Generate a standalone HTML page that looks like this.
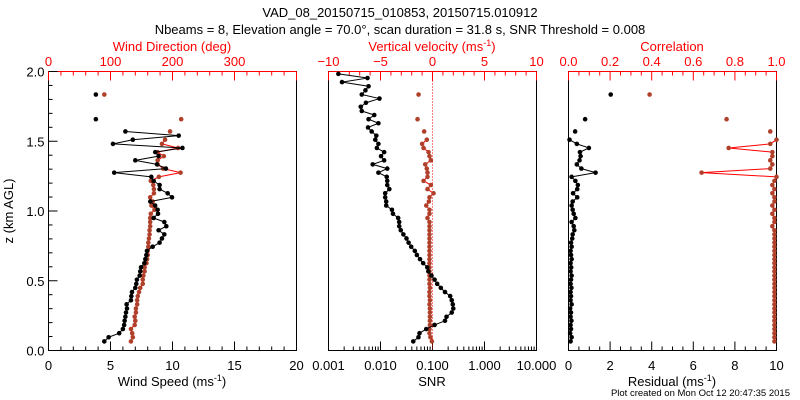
<!DOCTYPE html>
<html><head><meta charset="utf-8"><style>
html,body{margin:0;padding:0;background:#fff;}
svg{display:block;font-family:"Liberation Sans",sans-serif;}
</style></head><body>
<svg id="chart" width="800" height="400" xmlns="http://www.w3.org/2000/svg">
<text x="400" y="17" font-size="13" text-anchor="middle">VAD_08_20150715_010853, 20150715.010912</text>
<text x="400" y="34" font-size="13" text-anchor="middle">Nbeams = 8, Elevation angle = 70.0°, scan duration = 31.8 s, SNR Threshold = 0.008</text>
<text transform="translate(13,211) rotate(-90)" font-size="13" text-anchor="middle">z (km AGL)</text>
<text x="790" y="396" font-size="9.5" text-anchor="end">Plot created on Mon Oct 12 20:47:35 2015</text>
<g id="plots"></g>
</svg>
<script>
const heights=[0.065,0.095,0.124,0.154,0.183,0.213,0.242,0.272,0.301,0.331,0.360,0.390,0.419,0.449,0.478,0.508,0.537,0.567,0.596,0.626,0.655,0.685,0.714,0.744,0.773,0.803,0.832,0.862,0.891,0.921,0.950,0.980,1.009,1.039,1.068,1.098,1.127,1.157,1.186,1.216,1.245,1.275,1.304,1.334,1.363,1.393,1.422,1.452,1.481,1.511,1.540,1.570,1.599,1.629,1.658,1.688,1.717,1.747,1.776,1.806,1.835,1.865,1.894,1.924,1.953,1.983];
const N=null;
const windSpeed=[4.5,4.85,5.7,6.0,6.1,6.14,6.2,6.25,6.33,6.3,6.65,6.68,6.73,7.0,7.08,7.13,7.35,7.4,7.46,7.73,7.81,7.89,7.94,8.4,8.96,9.15,9.34,8.88,9.5,9.34,8.48,8.83,8.8,8.6,8.21,9.96,9.61,8.96,8.96,8.48,8.29,5.3,9.47,8.75,7.0,8.88,8.61,10.8,5.2,6.8,10.5,6.2,N,N,3.82,N,N,N,N,N,3.82,N,N,N,N,N];
const windDir=[133,136,135,133,139,140,139,141,141,143,143,144,146,148,152,152,153,155,155,158,159,160,160,161,161,162,163,163,164,164,164,165,171,166,168,164,170,170,169,165,178,213,185,176,176,186,176,209,183,188,N,196,N,N,214,N,N,N,N,N,90,N,N,N,N,N];
const snrLog10=[-1.37,-1.27,-1.25,-1.12,-0.96,-0.76,-0.73,-0.63,-0.60,-0.61,-0.63,-0.66,-0.76,-0.84,-0.91,-0.96,-1.02,-1.08,-1.10,-1.18,-1.24,-1.30,-1.34,-1.41,-1.46,-1.50,-1.56,-1.61,-1.64,-1.64,-1.66,-1.76,-1.78,-1.89,-1.89,-1.91,-1.91,-1.83,-1.87,-1.87,-1.88,-2.04,-1.87,-2.15,-1.93,-1.99,-1.93,-2.07,-2.04,-2.10,-2.08,-2.17,-2.24,-2.04,-2.23,-2.12,-2.36,-2.38,-2.28,-2.02,-2.36,-2.29,-2.23,-2.74,-2.25,-2.81];
const wVel=[-0.06,-0.2,-0.29,-0.29,-0.25,-0.25,-0.25,-0.25,-0.25,-0.29,-0.25,-0.29,-0.29,-0.25,-0.29,-0.29,-0.29,-0.29,-0.29,-0.29,-0.29,-0.29,-0.29,-0.29,-0.29,-0.29,-0.29,-0.29,-0.29,-0.29,-0.48,-0.29,-0.29,-0.6,-0.35,-0.29,0.1,-0.48,-0.16,-0.86,-0.48,-0.48,-0.55,-0.7,-0.16,-0.29,-0.38,-0.86,-1.0,-0.55,N,-0.8,N,N,-1.44,N,N,N,N,N,-1.34,N,N,N,N,N];
const residual=[0.1,0.15,0.08,0.12,0.1,0.14,0.1,0.12,0.08,0.15,0.1,0.12,0.1,0.14,0.1,0.12,0.15,0.1,0.13,0.1,0.15,0.12,0.1,0.15,0.12,0.18,0.2,0.28,0.25,0.15,0.33,0.25,0.2,0.15,0.2,0.42,0.22,0.42,0.45,0.33,0.15,1.3,0.62,0.4,0.53,0.58,0.55,0.98,0.4,0.05,N,0.32,N,N,0.8,N,N,N,N,N,2.03,N,N,N,N,N];
const correlation=[0.99,0.99,0.99,0.99,0.99,0.99,0.99,0.99,0.99,0.99,0.99,0.99,0.99,0.99,0.99,0.99,0.99,0.99,0.99,0.99,0.99,0.99,0.99,0.99,0.99,0.99,0.99,0.99,0.98,0.99,0.99,0.98,0.99,0.98,0.99,0.99,0.98,0.99,0.98,0.99,1.0,0.64,0.97,0.98,0.97,0.98,0.98,0.77,0.97,1.0,N,0.97,N,N,0.76,N,N,N,N,N,0.39,N,N,N,N,N];
const yTicks=[0.0,0.5,1.0,1.5,2.0];
const speedTicks=[0,5,10,15,20];
const dirTicks=[0,100,200,300];
const snrTicks=["0.001","0.010","0.100","1.000","10.000"];
const wTicks=[-10,-5,0,5,10];
const resTicks=[0,2,4,6,8,10];
const corrTicks=["0.0","0.2","0.4","0.6","0.8","1.0"];

const NS="http://www.w3.org/2000/svg";
const G=document.getElementById('plots');
const Y0=350.5,Y1=71.5;
const yS=z=>Y0-(z/2)*(Y0-Y1);
const RED="#ff0000",MK="#b0402a";
function el(t,a,p){const e=document.createElementNS(NS,t);for(const k in a)e.setAttribute(k,a[k]);(p||G).appendChild(e);return e;}
function txt(x,y,s,fill,size,anchor,name){const t=el('text',{x:x,y:y,fill:fill,'font-size':size,'text-anchor':anchor||'middle'});t.textContent=s;


return t;}
function line(x1,y1,x2,y2,c,name){const l=el('line',{x1:x1,y1:y1,x2:x2,y2:y2,stroke:c,'stroke-width':1});


return l;}

function panel(L,R,name,leftTicks){
  const g=el('g',{});
  
  
  const r=el('rect',{x:L,y:Y1,width:R-L,height:Y0-Y1,fill:'none',stroke:'#000'},g);
  
  
  el('line',{x1:L,y1:Y1,x2:R,y2:Y1,stroke:RED},g);
  if(leftTicks){
    for(let i=0;i<=20;i++){const z=i*0.1;const len=(i%5==0)?9:4;const y=yS(z);
      line(L,y,L+len,y,'#000','y-tick');}
    for(const v of yTicks){txt(L-4,yS(v)+5,v.toFixed(1),'#000',13,'end','y-tick-label');}
  }
  return g;
}
function series(xs,vals,xf,lineColor,markColor,name){
  let prev=null;
  for(let i=0;i<vals.length;i++){
    const v=vals[i];
    if(v===null){prev=null;continue;}
    const p=[xf(v),yS(heights[i])];
    if(prev){line(prev[0],prev[1],p[0],p[1],lineColor,name+'-segment');}
    prev=p;
  }
  for(let i=0;i<vals.length;i++){
    const v=vals[i]; if(v===null)continue;
    const c=el('circle',{cx:xf(v),cy:yS(heights[i]),r:2.3,fill:markColor});
    
    
  }
}

// Panel 1
{const L=48.5,R=296.5;panel(L,R,'wind-panel',true);
 const xs=v=>L+v/20*(R-L), xd=v=>L+v/400*(R-L);
 for(let i=0;i<=20;i++){const x=xs(i);line(x,Y0,x,Y0-(i%5==0?9:4),'#000','x-tick');}
 for(let i=0;i<=20;i++){const x=xd(i*20);line(x,Y1,x,Y1+(i%5==0?9:4),RED,'top-tick');}
 speedTicks.forEach(v=>txt(xs(v),370,String(v),'#000',13,'middle','speed-tick-label'));
 dirTicks.forEach(v=>txt(xd(v),66,String(v),RED,13,'middle','direction-tick-label'));
 txt(172,51,'Wind Direction (deg)',RED,13,'middle','wind-direction-title');
 const t=txt(172,386,'Wind Speed (ms','#000',13,'middle','wind-speed-title');
 const s=el('tspan',{dy:-5,'font-size':9},t);s.textContent='-1';const s2=el('tspan',{dy:5},t);s2.textContent=')';
 series(heights,windDir,xd,RED,MK,'wind-direction');
 series(heights,windSpeed,xs,'#000','#000','wind-speed');
}
// Panel 2
{const L=328.5,R=536.5;panel(L,R,'snr-panel',false);
 const xl=v=>L+(v+3)/4*(R-L), xw=v=>L+(v+10)/20*(R-L);
 for(let d=-3;d<1;d++){for(let k=1;k<10;k++){const x=xl(d+Math.log10(k));line(x,Y0,x,Y0-(k==1?9:4),'#000','x-tick');}}
 line(R,Y0,R,Y0-9,'#000','x-tick');
 for(let i=0;i<=20;i++){const x=xw(-10+i);line(x,Y1,x,Y1+(i%5==0?9:4),RED,'top-tick');}
 snrTicks.forEach((v,i)=>txt(xl(i-3),370,v,'#000',13,'middle','snr-tick-label'));
 wTicks.forEach(v=>txt(xw(v),66,v<0?'\u2212'+(-v):String(v),RED,13,'middle','w-tick-label'));
 const t=txt(432,51,'Vertical velocity (ms',RED,13,'middle','vertical-velocity-title');
 const s=el('tspan',{dy:-5,'font-size':9},t);s.textContent='-1';const s2=el('tspan',{dy:5},t);s2.textContent=')';
 txt(432,386,'SNR','#000',13,'middle','snr-title');
 const zl=el('line',{x1:xw(0),y1:Y1,x2:xw(0),y2:Y0,stroke:RED,'stroke-dasharray':'1,2'});
 
 
 series(heights,wVel,xw,RED,MK,'vertical-velocity');
 series(heights,snrLog10,xl,'#000','#000','snr');
}
// Panel 3
{const L=568.5,R=776.5;panel(L,R,'residual-panel',false);
 const xr=v=>L+v/10*(R-L), xc=v=>L+v*(R-L);
 for(let i=0;i<=20;i++){const x=xr(i*0.5);line(x,Y0,x,Y0-(i%4==0?9:4),'#000','x-tick');}
 for(let i=0;i<=20;i++){const x=xc(i*0.05);line(x,Y1,x,Y1+(i%4==0?9:4),RED,'top-tick');}
 resTicks.forEach(v=>txt(xr(v),370,String(v),'#000',13,'middle','residual-tick-label'));
 corrTicks.forEach(v=>txt(xc(parseFloat(v)),66,v,RED,13,'middle','correlation-tick-label'));
 txt(672,51,'Correlation',RED,13,'middle','correlation-title');
 const t=txt(672,386,'Residual (ms','#000',13,'middle','residual-title');
 const s=el('tspan',{dy:-5,'font-size':9},t);s.textContent='-1';const s2=el('tspan',{dy:5},t);s2.textContent=')';
 series(heights,correlation,xc,RED,MK,'correlation');
 series(heights,residual,xr,'#000','#000','residual');
}
</script>
</body></html>
